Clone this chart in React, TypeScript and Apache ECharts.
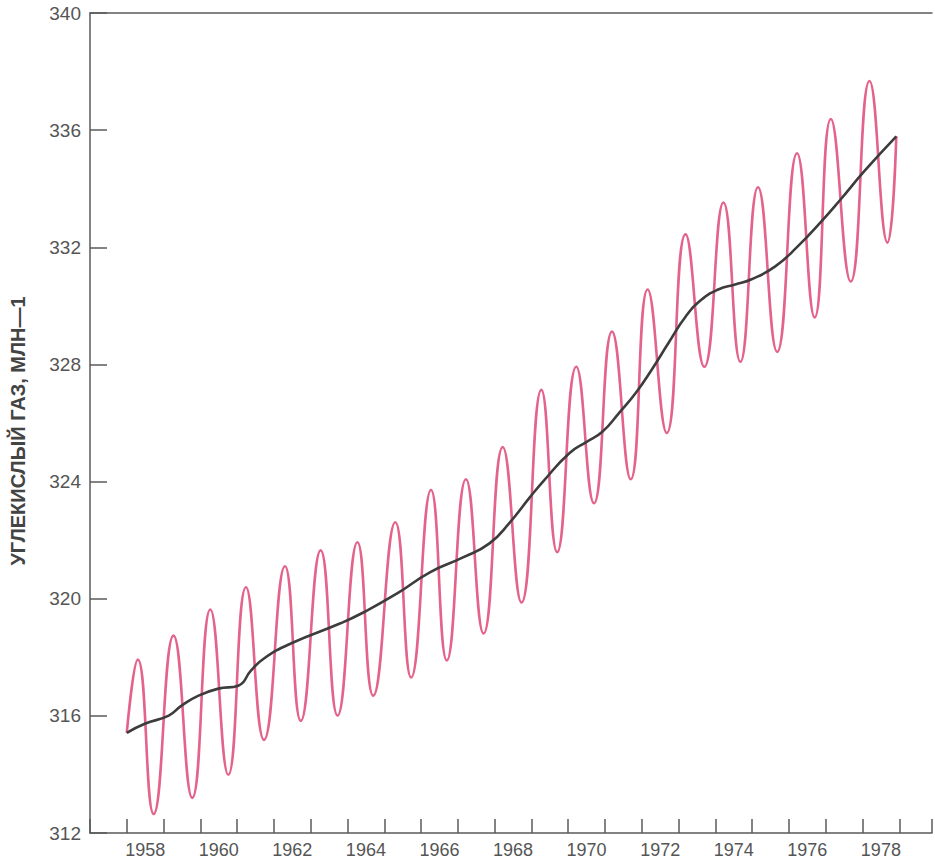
import React, { useEffect, useRef } from "react";
import * as echarts from "echarts";

// Seasonal CO2 curve (pink): [year, ppm] at start, peaks and troughs
const seasonalTimes = [
  1958.0, 1958.3, 1958.73, 1959.27, 1959.78, 1960.27, 1960.76, 1961.24, 1961.73,
  1962.3, 1962.73, 1963.27, 1963.73, 1964.27, 1964.7, 1965.3, 1965.73, 1966.27,
  1966.7, 1967.22, 1967.7, 1968.22, 1968.73, 1969.27, 1969.7, 1970.22, 1970.7,
  1971.19, 1971.7, 1972.16, 1972.68, 1973.19, 1973.7, 1974.22, 1974.68, 1975.16,
  1975.68, 1976.22, 1976.7, 1977.14, 1977.68, 1978.19, 1978.68, 1978.92,
];
const seasonalValues = [
  315.42, 317.92, 312.65, 318.74, 313.2, 319.63, 313.99, 320.39, 315.18,
  321.11, 315.83, 321.65, 316.01, 321.93, 316.69, 322.61, 317.31, 323.71,
  317.89, 324.08, 318.81, 325.18, 319.87, 327.13, 321.59, 327.92, 323.26,
  329.12, 324.08, 330.56, 325.66, 332.44, 327.92, 333.53, 328.09, 334.05,
  328.43, 335.21, 329.6, 336.38, 330.83, 337.68, 332.16, 335.79,
];

// Trend curve (dark)
const trendTimes = [
  1958.0, 1958.49, 1959.14, 1959.49, 1959.95, 1960.49, 1961.03, 1961.38, 1961.73,
  1962.46, 1963.81, 1964.43, 1965.35, 1966.24, 1967.14, 1967.86, 1968.41,
  1968.95, 1969.35, 1970.03, 1970.49, 1970.92, 1971.38, 1971.84, 1972.27, 1972.73,
  1973.19, 1973.62, 1974.08, 1974.54, 1974.97, 1975.62, 1976.24, 1976.86, 1977.41,
  1978.05, 1978.92,
];
const trendValues = [
  315.42, 315.73, 316.01, 316.35, 316.69, 316.93, 317.03, 317.55, 317.96,
  318.47, 319.16, 319.53, 320.18, 320.9, 321.41, 321.89, 322.6,
  323.45, 324.05, 324.97, 325.35, 325.69, 326.34, 327.03, 327.82, 328.74,
  329.63, 330.21, 330.56, 330.73, 330.9, 331.34, 332.03, 332.85, 333.64,
  334.6, 335.79,
];

const yTicks = [312, 316, 320, 324, 328, 332, 336, 340];
const yearLabels = [1958, 1960, 1962, 1964, 1966, 1968, 1970, 1972, 1974, 1976, 1978];
const yAxisTitle = "УГЛЕКИСЛЫЙ ГАЗ, МЛН—1";

const X_MIN = 1957;
const X_MAX = 1979.89;

export default function App() {
  const ref = useRef<HTMLDivElement>(null);

  useEffect(() => {
    if (!ref.current) return;
    const chart = echarts.init(ref.current, null, { renderer: "svg" });
    const axisColor = "#5a5a5a";
    const textColor = "#555";
    const font = "'Liberation Sans', Arial, Helvetica, sans-serif";

    chart.setOption({
      animation: false,
      backgroundColor: "#ffffff",
      grid: { left: 89, right: 0, top: 13, bottom: 28, containLabel: false },
      xAxis: [
        {
          type: "value",
          min: X_MIN,
          max: X_MAX,
          interval: 1,
          position: "bottom",
          axisLine: { show: true, lineStyle: { color: axisColor, width: 1.5 } },
          axisTick: { show: true, inside: true, length: 14, lineStyle: { color: axisColor, width: 1.5 } },
          axisLabel: { show: false },
          splitLine: { show: false },
        },
        {
          type: "value",
          min: X_MIN - 0.5,
          max: X_MAX - 0.5,
          interval: 0.5,
          position: "bottom",
          axisLine: { show: false },
          axisTick: { show: false },
          splitLine: { show: false },
          axisLabel: {
            show: true,
            margin: 8,
            color: textColor,
            fontSize: 18,
            fontFamily: font,
            showMinLabel: true,
            showMaxLabel: true,
            formatter: (v: number) => {
              const r = Math.round(v);
              if (Math.abs(v - r) > 1e-6) return "";
              return yearLabels.indexOf(r) >= 0 ? String(r) : "";
            },
          },
        },
        {
          type: "value",
          min: X_MIN,
          max: X_MAX,
          position: "top",
          axisLine: { show: true, lineStyle: { color: axisColor, width: 1.5 } },
          axisTick: { show: false },
          axisLabel: { show: false },
          splitLine: { show: false },
        },
      ],
      yAxis: {
        type: "value",
        min: yTicks[0],
        max: yTicks[yTicks.length - 1],
        interval: 4,
        axisLine: { show: true, lineStyle: { color: axisColor, width: 1.5 } },
        axisTick: { show: true, inside: true, length: 17, lineStyle: { color: axisColor, width: 1.5 } },
        splitLine: { show: false },
        axisLabel: {
          color: textColor,
          fontSize: 19,
          fontFamily: font,
          margin: 9,
          showMinLabel: true,
          showMaxLabel: true,
        },
        name: yAxisTitle,
        nameLocation: "middle",
        nameGap: 62,
        nameTextStyle: {
          color: "#444",
          fontSize: 20,
          fontWeight: "bold",
          fontFamily: font,
          padding: [0, 16, 0, 0],
        },
      },
      series: [
        {
          type: "line",
          xAxisIndex: 0,
          data: seasonalTimes.map((t, i) => [t, seasonalValues[i]]),
          smooth: 0.5,
          showSymbol: false,
          lineStyle: { color: "#e3638b", width: 2.6 },
          z: 2,
        },
        {
          type: "line",
          xAxisIndex: 0,
          data: trendTimes.map((t, i) => [t, trendValues[i]]),
          smooth: 0.5,
          showSymbol: false,
          lineStyle: { color: "#3c3c3c", width: 2.6 },
          z: 3,
        },
      ],
    });

    return () => chart.dispose();
  }, []);

  return (
    <div
      ref={ref}
      style={{ position: "fixed", left: 0, top: 0, width: 935, height: 861, background: "#fff" }}
    />
  );
}
